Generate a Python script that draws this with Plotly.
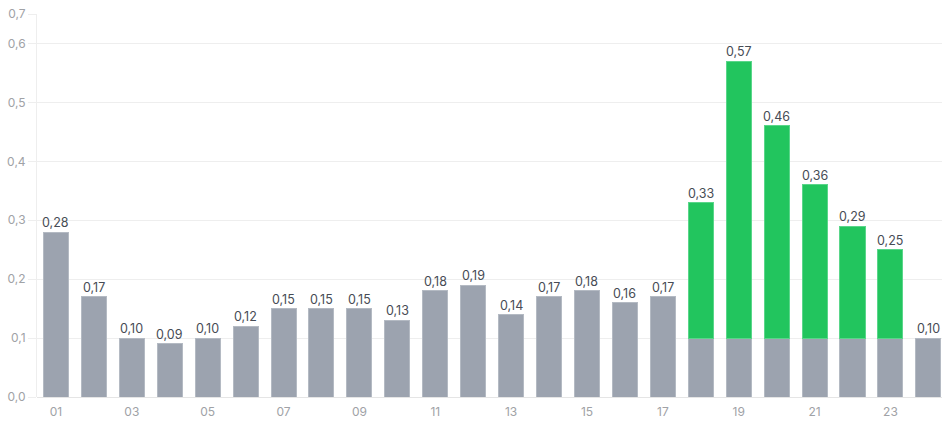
import plotly.graph_objects as go

# Hourly values, 01..24
hours = [f"{h:02d}" for h in range(1, 25)]
totals = [0.28, 0.17, 0.10, 0.09, 0.10, 0.12, 0.15, 0.15, 0.15, 0.13, 0.18, 0.19,
          0.14, 0.17, 0.18, 0.16, 0.17, 0.33, 0.57, 0.46, 0.36, 0.29, 0.25, 0.10]
# Hours billed at the peak rate; their base share is capped at base_level
peak_hours = ["18", "19", "20", "21", "22", "23"]
base_level = 0.10

base = [min(v, base_level) if h in peak_hours else v for h, v in zip(hours, totals)]
peak = [round(v - base_level, 2) if h in peak_hours else None for h, v in zip(hours, totals)]
labels = [f"{v:.2f}".replace(".", ",") for v in totals]

tick_hours = hours[::2]
# Axis tops out at 0.65; the top tick is shown rounded to one decimal
y_max = 0.65
y_ticks = [0, 0.1, 0.2, 0.3, 0.4, 0.5, 0.6, y_max]
y_ticktext = [f"{v:.1f}".replace(".", ",") for v in [0, 0.1, 0.2, 0.3, 0.4, 0.5, 0.6, 0.7]]

fig = go.Figure()
fig.add_trace(go.Bar(
    x=hours, y=base, marker=dict(color="#9ca3af", line=dict(color="#b4bac3", width=1)),
    hoverinfo="skip", showlegend=False,
))
fig.add_trace(go.Bar(
    x=hours, y=peak, marker=dict(color="#22c55e", line=dict(color="#5ad68a", width=1)),
    hoverinfo="skip", showlegend=False,
))

# Value labels above each bar total (category axis positions are the indices)
for i, (v, t) in enumerate(zip(totals, labels)):
    fig.add_annotation(
        x=i, y=v, text=t, showarrow=False, yanchor="bottom", yshift=0,
        font=dict(family="Inter, Noto Sans, sans-serif", size=12.5, color="#474c55"),
    )

tick_color = "#a0a2a6"
fig.update_layout(
    width=942, height=422,
    barmode="stack", bargap=0.34,
    separators=",.",
    plot_bgcolor="white", paper_bgcolor="white",
    margin=dict(l=37, r=0, t=14, b=25),
    font=dict(family="Inter, Noto Sans, sans-serif", size=12, color=tick_color),
    xaxis=dict(
        type="category", range=[-0.5, 23.36],
        tickmode="array", tickvals=tick_hours, ticktext=tick_hours,
        showgrid=False, showline=False, ticks="outside", ticklen=4, tickcolor="rgba(0,0,0,0)",
        tickfont=dict(size=12, color=tick_color),
    ),
    yaxis=dict(
        range=[0, y_max], tickmode="array", tickvals=y_ticks, ticktext=y_ticktext,
        showgrid=True, gridcolor="#eeeeee", gridwidth=1,
        zeroline=True, zerolinecolor="#e5e5e5", zerolinewidth=1,
        showline=True, linecolor="#eeeeee", linewidth=1,
        ticks="outside", ticklen=8, tickcolor="#eeeeee",
        tickfont=dict(size=12, color=tick_color),
    ),
)

fig.write_html("out.html")
